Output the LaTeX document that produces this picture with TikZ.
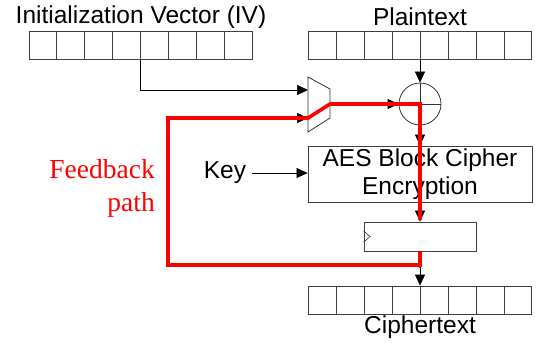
\documentclass[tikz,border=0pt]{standalone}
\usepackage{fontspec}
\setmainfont{Liberation Serif}
\setsansfont{Liberation Sans}
\usetikzlibrary{arrows.meta,calc}
\definecolor{fbred}{RGB}{255,0,0}
\begin{document}
\begin{tikzpicture}[x=1pt,y=-1pt,
  reg/.style={draw=black!75, line width=0.8pt, minimum width=223pt, minimum height=28pt, inner sep=0pt},
  box/.style={draw=black!75, line width=0.8pt, inner sep=0pt},
  lbl/.style={font=\sffamily\fontsize{24.5}{28}\selectfont, inner sep=0pt},
  arr/.style={-{Triangle[length=11pt,width=10pt]}, line width=0.6pt},
  fb/.style={draw=fbred, line width=3.6pt, line join=miter}]
\useasboundingbox (0,0) rectangle (537,343);

% registers
\node[reg] (iv) at (140.5,45) {};
\node[reg] (pt) at (420,45) {};
\node[reg] (ct) at (420,300) {};
\foreach \r in {iv,pt,ct}{
  \foreach \i in {1,...,7}{
    \draw[black!75, line width=0.8pt] ($(\r.north west)!\i/8!(\r.north east)$) -- ($(\r.south west)!\i/8!(\r.south east)$);
  }
}
\node[lbl] (ivl) at (141,17) {Initialization Vector (IV)};
\node[lbl] (ptl) at (420,17) {Plaintext};
\node[lbl] (ctl) at (420,327) {Ciphertext};

% mux
\coordinate (muxA) at (308,90);
\coordinate (muxB) at (308,118);
\coordinate (muxO) at (330,104);
\draw[black!80, line width=0.8pt] (308,77) -- (330,89) -- (330,118) -- (308,132) -- cycle;

% xor
\node[draw=black!80, line width=0.8pt, circle, minimum size=42pt, inner sep=0pt] (xor) at (420,104) {};
\draw[black!80, line width=0.8pt] (xor.north) -- (xor.south) (xor.west) -- (xor.east);

% AES
\node[box, minimum width=224pt, minimum height=56pt, align=center,
      font=\sffamily\fontsize{24.5}{28}\selectfont] (aes) at (420,174) {AES Block Cipher\\Encryption};

% register
\node[box, minimum width=112pt, minimum height=29pt] (reg) at (420,236.5) {};
\draw[black!80, line width=0.6pt] (reg.west) ++(0,-5.5) -- ++(6.5,5.5) -- ++(-6.5,5.5);

% key
\node[lbl] (key) at (225,173) {Key};
\coordinate (keyS) at (252,173);

% feedback label
\node[font=\rmfamily\fontsize{27.5}{33}\selectfont, text=fbred, align=right, anchor=east, inner sep=0pt] (fbl) at (155,188) {Feedback\\path};

% junction and corners
\coordinate (J) at (420,265);
\coordinate (fbTL) at (168,118);

% black connectors
\draw[arr] (iv.south) |- (muxA);
\draw[arr] (fbTL) -- (muxB);
\draw[arr] (muxO) -- (xor.west);
\draw[arr] (pt.south) -- (xor.north);
\draw[arr] (xor.south) -- (aes.north);
\draw[arr] (aes.south) -- (reg.north);
\draw[arr] (reg.south) -- (ct.north);
\draw[arr] (keyS) -- (aes.west |- keyS);
\fill (J) ++(0,1.5) circle (1.6pt);

% feedback path (red)
\draw[fb] (reg.south) -- (J) -| (fbTL) -- (muxB) -- (muxO) -- (xor.center) -- ($(reg.north)+(0,-2)$);
\end{tikzpicture}
\end{document}
